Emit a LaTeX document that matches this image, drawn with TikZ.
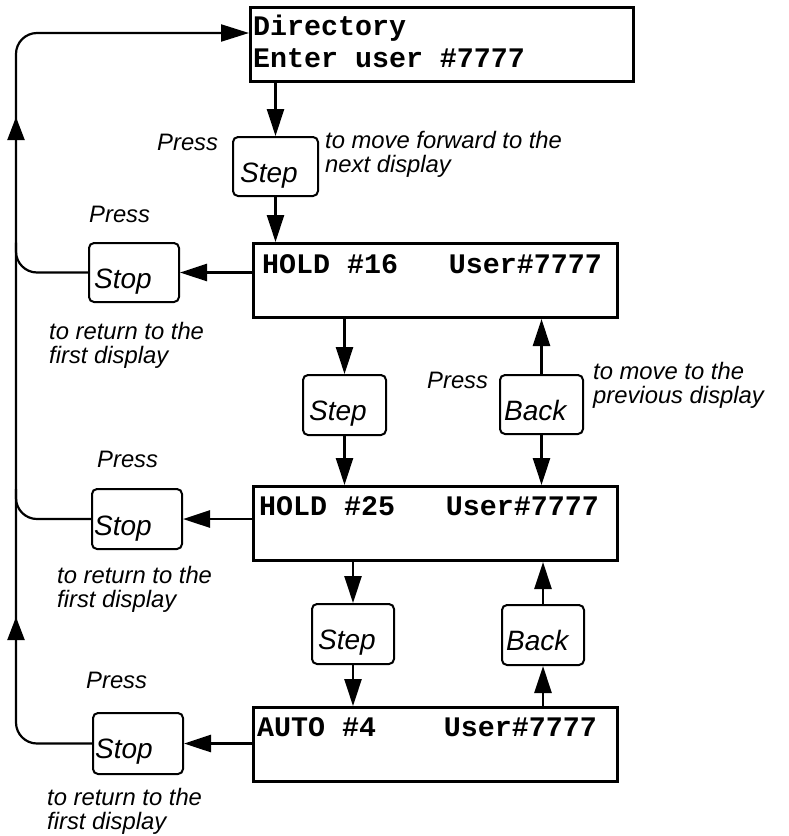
\documentclass[tikz,border=0pt]{standalone}
\usepackage{fontspec}
\usetikzlibrary{arrows.meta,calc}
\newfontfamily\helvfam{Liberation Sans}
\newfontfamily\monofam{Liberation Mono}
\newcommand\keyfont{\helvfam\itshape\fontsize{28}{30}\selectfont}
\newcommand\notefont{\helvfam\itshape\fontsize{23.8}{24.8}\selectfont}
\newcommand\dispfont{\monofam\bfseries\fontsize{28.3}{30}\selectfont}
\newcommand\twolines[2]{\begin{tabular}[t]{@{}l@{}}#1\\#2\end{tabular}}
\begin{document}
\begin{tikzpicture}[x=1pt,y=-1pt,
  display/.style={draw, line width=3pt, anchor=north west, inner sep=0pt},
  disptext/.style={font=\dispfont, anchor=base west, inner sep=0pt},
  keybox/.style={draw, line width=2pt, rounded corners=5pt, anchor=north west, inner sep=0pt},
  keytext/.style={font=\keyfont, anchor=base west, inner sep=0pt},
  note/.style={font=\notefont, anchor=base west, inner sep=0pt},
  arr/.style={line width=2.8pt, -{Triangle[length=27pt,width=17pt]}},
  loopline/.style={line width=2.2pt, rounded corners=21pt},
  looparr/.style={line width=2.2pt, -{Triangle[length=23pt,width=17pt]}}
]
\useasboundingbox (0,0) rectangle (788,836);

% display boxes
\node[display, minimum width=383pt, minimum height=74pt] (D0) at (249,6) {};
\node[display, minimum width=364pt, minimum height=74pt] (D1) at (252,242) {};
\node[display, minimum width=364pt, minimum height=74pt] (D2) at (252,485) {};
\node[display, minimum width=364pt, minimum height=74pt] (D3) at (252,706) {};

\node[disptext] (t0a) at (253,35) {Directory};
\node[disptext] (t0b) at (253,67) {Enter user \#7777};
\node[disptext] (t1) at (262,273) {HOLD \#16\ \ \ User\#7777};
\node[disptext] (t2) at (259,515) {HOLD \#25\ \ \ User\#7777};
\node[disptext] (t3) at (257,736) {AUTO \#4\ \ \ \ User\#7777};

% keys
\node[keybox, minimum width=85pt, minimum height=59pt] (K0) at (232,136) {};
\node[keytext] (K0t) at (240,182) {Step};
\node[keybox, minimum width=90pt, minimum height=59pt] (S1) at (88,242) {};
\node[keytext] (S1t) at (94,288) {Stop};
\node[keybox, minimum width=83pt, minimum height=60pt] (K1) at (302,374) {};
\node[keytext] (K1t) at (309,420) {Step};
\node[keybox, minimum width=83pt, minimum height=59pt] (B1) at (499,374) {};
\node[keytext] (B1t) at (504,420) {Back};
\node[keybox, minimum width=90pt, minimum height=60pt] (S2) at (91,488) {};
\node[keytext] (S2t) at (94,535) {Stop};
\node[keybox, minimum width=82pt, minimum height=60pt] (K2) at (311,603) {};
\node[keytext] (K2t) at (318,649) {Step};
\node[keybox, minimum width=82pt, minimum height=60pt] (B2) at (501,604) {};
\node[keytext] (B2t) at (506,650) {Back};
\node[keybox, minimum width=90pt, minimum height=61pt] (S3) at (92,712) {};
\node[keytext] (S3t) at (95,758) {Stop};

% notes
\node[note] (n0) at (157,150) {Press};
\node[note] (n1) at (325,148) {\twolines{to move forward to the}{next display}};
\node[note] (n2) at (89,222) {Press};
\node[note] (n3) at (49,339) {\twolines{to return to the}{first display}};
\node[note] (n4) at (427,388) {Press};
\node[note] (n5) at (593,379) {\twolines{to move to the}{previous display}};
\node[note] (n6) at (97,467) {Press};
\node[note] (n7) at (57,583) {\twolines{to return to the}{first display}};
\node[note] (n8) at (86,688) {Press};
\node[note] (n9) at (47,805) {\twolines{to return to the}{first display}};

% vertical arrows
\draw[arr] (K0.north |- D0.south) -- (K0.north);
\draw[arr] (K0.south) -- (K0.south |- D1.north);
\draw[arr] (K1.north |- D1.south) -- (K1.north);
\draw[arr] (K1.south) -- (K1.south |- D2.north);
\draw[arr] (B1.north) -- (B1.north |- D1.south);
\draw[arr] (B1.south) -- (B1.south |- D2.north);
\draw[arr] (K2.north |- D2.south) -- (K2.north);
\draw[arr] (K2.south) -- (K2.south |- D3.north);
\draw[arr] (B2.north) -- (B2.north |- D2.south);
\draw[arr] (B2.south |- D3.north) -- (B2.south);

% arrows to Stop keys
\draw[arr] (S1.east -| D1.west) -- (S1.east);
\draw[arr] (S2.east -| D2.west) -- (S2.east);
\draw[arr] (S3.east -| D3.west) -- (S3.east);

% return loop
\coordinate (Lx) at (16,0);
\coordinate (Din) at (249,33);
\draw[loopline, -{Triangle[length=28pt,width=17pt]}] (S3.west) -| (Lx |- Din) -- (Din);
\draw[loopline] (S1.west) -| ($(S1.west -| Lx)+(0,-30)$);
\draw[loopline] (S2.west) -| ($(S2.west -| Lx)+(0,-30)$);
\coordinate (u1a) at (16,141);
\coordinate (u1b) at (16,117);
\coordinate (u2a) at (16,641);
\coordinate (u2b) at (16,617);
\draw[looparr] (u1a) -- (u1b);
\draw[looparr] (u2a) -- (u2b);
\end{tikzpicture}
\end{document}
